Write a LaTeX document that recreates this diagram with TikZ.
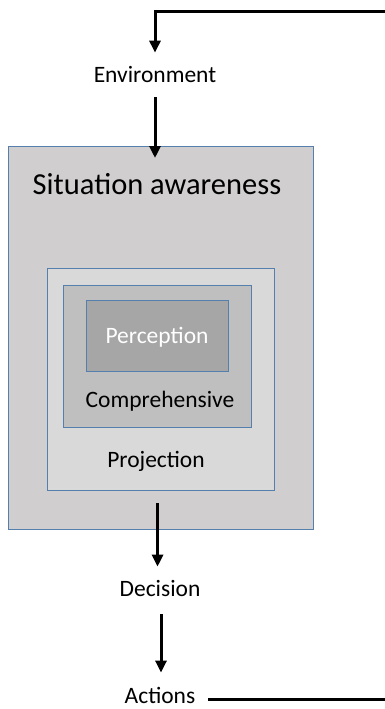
\documentclass[tikz,border=0pt]{standalone}
\usepackage{fontspec}
\setmainfont{Carlito}
\usetikzlibrary{arrows.meta}
\definecolor{saFill}{HTML}{D0CECE}
\definecolor{projFill}{HTML}{D9D9D9}
\definecolor{compFill}{HTML}{BFBFBF}
\definecolor{percFill}{HTML}{A6A6A6}
\definecolor{edgeBlue}{HTML}{5580AD}
\begin{document}
\begin{tikzpicture}[x=1pt,y=-1pt,
  layer/.style={draw=edgeBlue,line width=1.1pt,inner sep=0pt,anchor=north west},
  lbl/.style={font=\fontsize{23.5}{27}\selectfont,inner sep=0pt,anchor=base},
  tip/.style={-{Triangle[width=11pt,length=12pt]}},
  flow/.style={line width=3pt,tip},
  loop/.style={line width=3pt}]
\useasboundingbox (0,0) rectangle (385,709);
\clip (0,0) rectangle (385,709);

% nested awareness levels
\node[layer,fill=saFill,minimum width=305pt,minimum height=383pt] (sa) at (8,146) {};
\node[layer,fill=projFill,minimum width=227pt,minimum height=222pt] (proj) at (47,268) {};
\node[layer,fill=compFill,minimum width=188pt,minimum height=142pt] (comp) at (63,285) {};
\node[layer,fill=percFill,minimum width=142pt,minimum height=71pt] (perc) at (86,300) {};

% labels
\node[lbl,font=\fontsize{30.5}{34}\selectfont] (satitle) at (157,194) {Situation awareness};
\node[lbl,text=white] (perctxt) at (157,343) {Perception};
\node[lbl] (comptxt) at (160,407) {Comprehensive};
\node[lbl] (projtxt) at (156,467) {Projection};
\node[lbl] (env) at (155,82) {Environment};
\node[lbl] (dec) at (160,596) {Decision};
\node[lbl] (act) at (160,703) {Actions};

% feedback loop from actions back to the environment
\coordinate (loopBot) at (395,699);
\coordinate (loopTop) at (395,12);
\draw[loop,shorten <=13pt] (act.east |- loopBot) -- (loopBot);
\draw[loop,tip,shorten >=13pt] (loopTop) -| (env.north);

% main flow
\draw[flow,shorten <=15pt,shorten >=-12pt] (env.south) -- (env.south |- sa.north);
\draw[flow,shorten <=12pt,shorten >=13pt] ([xshift=-3.5pt]proj.south) -- ([xshift=-3.5pt]proj.south |- dec.north);
\draw[flow,shorten <=18pt,shorten >=14pt] ([xshift=1pt]dec.south) -- ([xshift=1pt]dec.south |- act.north);
\end{tikzpicture}
\end{document}
